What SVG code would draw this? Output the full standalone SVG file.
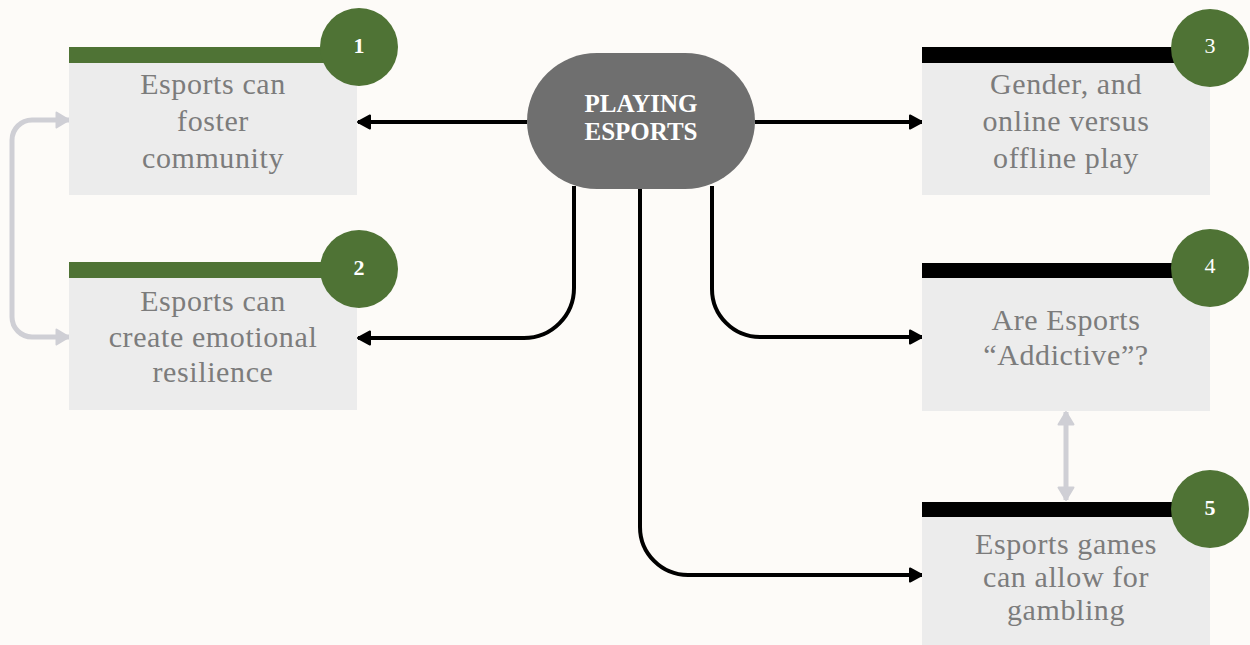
<svg xmlns="http://www.w3.org/2000/svg" width="1250" height="645" viewBox="0 0 1250 645">
<defs>
<style>
.box{fill:#ececec}
.gbar{fill:#4f7335}
.kbar{fill:#000}
.circ{fill:#4f7335}
.t{font-family:"Liberation Serif","Times New Roman",serif;font-size:30px;fill:#7c7c7c;text-anchor:middle;letter-spacing:0.6px}
.num{font-family:"Liberation Serif","Times New Roman",serif;font-size:22px;fill:#fff;text-anchor:middle}
.b{font-weight:bold}
.ctr{font-family:"Liberation Serif","Times New Roman",serif;font-size:25px;font-weight:bold;fill:#fff;text-anchor:middle}
.k{fill:none;stroke:#000;stroke-width:4}
.g{fill:none;stroke:#cfcfd5;stroke-width:5}
</style>
<marker id="ak" markerUnits="userSpaceOnUse" markerWidth="16" markerHeight="18" refX="13" refY="8" orient="auto">
<path d="M1,1.5 L13,8 L1,14.5 z" fill="#000" stroke="#000" stroke-width="2" stroke-linejoin="round"/>
</marker>
<marker id="ag" markerUnits="userSpaceOnUse" markerWidth="18" markerHeight="20" refX="14" refY="9" orient="auto-start-reverse">
<path d="M1.5,1.5 L14,9 L1.5,16.5 z" fill="#cfcfd5" stroke="#cfcfd5" stroke-width="2" stroke-linejoin="round"/>
</marker>
</defs>
<rect width="1250" height="645" fill="#fdfbf8"/>
<g id="connectors">
<path class="k" d="M527,122 H358" marker-end="url(#ak)"/>
<path class="k" d="M755,122 H922" marker-end="url(#ak)"/>
<path class="k" d="M574,186 V288 A50,50 0 0 1 524,338 H358" marker-end="url(#ak)"/>
<path class="k" d="M712,186 V289 A48,48 0 0 0 760,337 H922" marker-end="url(#ak)"/>
<path class="k" d="M640,188 V527 A48,48 0 0 0 688,575 H922" marker-end="url(#ak)"/>
<path class="g" d="M69,120 H32 A20,20 0 0 0 12,140 V317 A20,20 0 0 0 32,337 H69" marker-start="url(#ag)" marker-end="url(#ag)"/>
<path class="g" d="M1066,412 V500" marker-start="url(#ag)" marker-end="url(#ag)"/>
</g>
<g id="center">
<rect x="527" y="53" width="228" height="136" rx="70" ry="68" fill="#6f6f6f"/>
<text class="ctr" x="641" y="112">PLAYING</text>
<text class="ctr" x="641" y="140">ESPORTS</text>
</g>
<g id="node1">
<rect class="box" x="69" y="63" width="288" height="132"/>
<rect class="gbar" x="69" y="47" width="270" height="16"/>
<circle class="circ" cx="359" cy="47" r="39"/>
<text class="num b" x="359" y="53">1</text>
<text class="t" x="213" y="94">Esports can</text>
<text class="t" x="213" y="131">foster</text>
<text class="t" x="213" y="168">community</text>
</g>
<g id="node2">
<rect class="box" x="69" y="278" width="288" height="132"/>
<rect class="gbar" x="69" y="262" width="270" height="16"/>
<circle class="circ" cx="359" cy="269" r="39"/>
<text class="num b" x="359" y="275">2</text>
<text class="t" x="213" y="311">Esports can</text>
<text class="t" x="213" y="347">create emotional</text>
<text class="t" x="213" y="382">resilience</text>
</g>
<g id="node3">
<rect class="box" x="922" y="63" width="288" height="132"/>
<rect class="kbar" x="922" y="47" width="270" height="16"/>
<circle class="circ" cx="1210" cy="48" r="39"/>
<text class="num" x="1210" y="53">3</text>
<text class="t" x="1066" y="94">Gender, and</text>
<text class="t" x="1066" y="131">online versus</text>
<text class="t" x="1066" y="168">offline play</text>
</g>
<g id="node4">
<rect class="box" x="922" y="278" width="288" height="133"/>
<rect class="kbar" x="922" y="263" width="270" height="15"/>
<circle class="circ" cx="1210" cy="268" r="39"/>
<text class="num" x="1210" y="273">4</text>
<text class="t" x="1066" y="330">Are Esports</text>
<text class="t" x="1066" y="365">“Addictive”?</text>
</g>
<g id="node5">
<rect class="box" x="922" y="517" width="288" height="128"/>
<rect class="kbar" x="922" y="502" width="270" height="15"/>
<circle class="circ" cx="1210" cy="509" r="39"/>
<text class="num b" x="1210" y="515">5</text>
<text class="t" x="1066" y="554">Esports games</text>
<text class="t" x="1066" y="587">can allow for</text>
<text class="t" x="1066" y="620">gambling</text>
</g>
</svg>
